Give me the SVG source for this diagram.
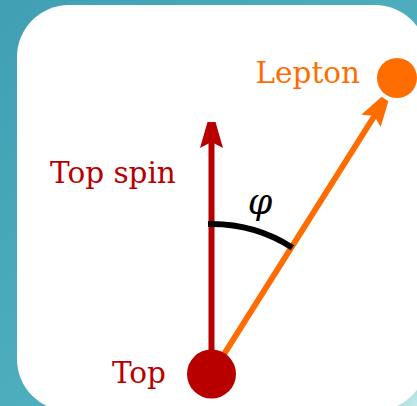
<svg xmlns="http://www.w3.org/2000/svg" width="417" height="406" viewBox="0 0 417 406">
  <defs>
    <linearGradient id="bg" x1="0" y1="0" x2="1" y2="1">
      <stop offset="0" stop-color="#419fb3"/>
      <stop offset="0.6" stop-color="#4fb0bf"/>
      <stop offset="1" stop-color="#66c2cb"/>
    </linearGradient>
    <radialGradient id="glow" cx="417" cy="406" r="70" gradientUnits="userSpaceOnUse">
      <stop offset="0" stop-color="#c4e9eb"/>
      <stop offset="1" stop-color="#c4e9eb" stop-opacity="0"/>
    </radialGradient>
    <path id="head" d="M-4,0 L4,0 L11.5,26 L0,20 L-11.5,26 Z"/>
    <style>
      .lbl { font-family: "DejaVu Serif", "Liberation Serif", serif; font-size: 29.5px; }
      .red { fill: #b80000; }
      .org { fill: #ff6d00; }
    </style>
  </defs>
  <rect x="0" y="0" width="417" height="406" fill="url(#bg)"/>
  <rect x="0" y="0" width="417" height="406" fill="url(#glow)"/>
  <rect x="17" y="5" width="410" height="406" rx="52" ry="52" fill="#ffffff"/>

  <g id="connectors">
    <line x1="211.5" y1="374" x2="211.5" y2="140" stroke="#b80000" stroke-width="6"/>
    <use href="#head" class="red" transform="translate(211.5,122)"/>
    <line x1="211.5" y1="374" x2="375" y2="115" stroke="#ff6d00" stroke-width="6"/>
    <use href="#head" class="org" transform="translate(385,99) rotate(32.6)"/>
    <path d="M208,224.1 A150,150 0 0 1 292.4,247.7" fill="none" stroke="#000000" stroke-width="6"/>
    <text x="260" y="214" font-family="DejaVu Serif, serif" font-style="italic" font-size="35" text-anchor="middle" fill="#000000">φ</text>
  </g>

  <g id="top">
    <circle cx="211.5" cy="374" r="24.5" fill="#b80000"/>
    <text class="lbl red" x="166" y="383" text-anchor="end">Top</text>
  </g>
  <g id="topspin">
    <text class="lbl red" x="50" y="183">Top spin</text>
  </g>
  <g id="lepton">
    <circle cx="397" cy="78" r="20" fill="#ff6d00"/>
    <text class="lbl org" x="360" y="83" text-anchor="end">Lepton</text>
  </g>
</svg>
